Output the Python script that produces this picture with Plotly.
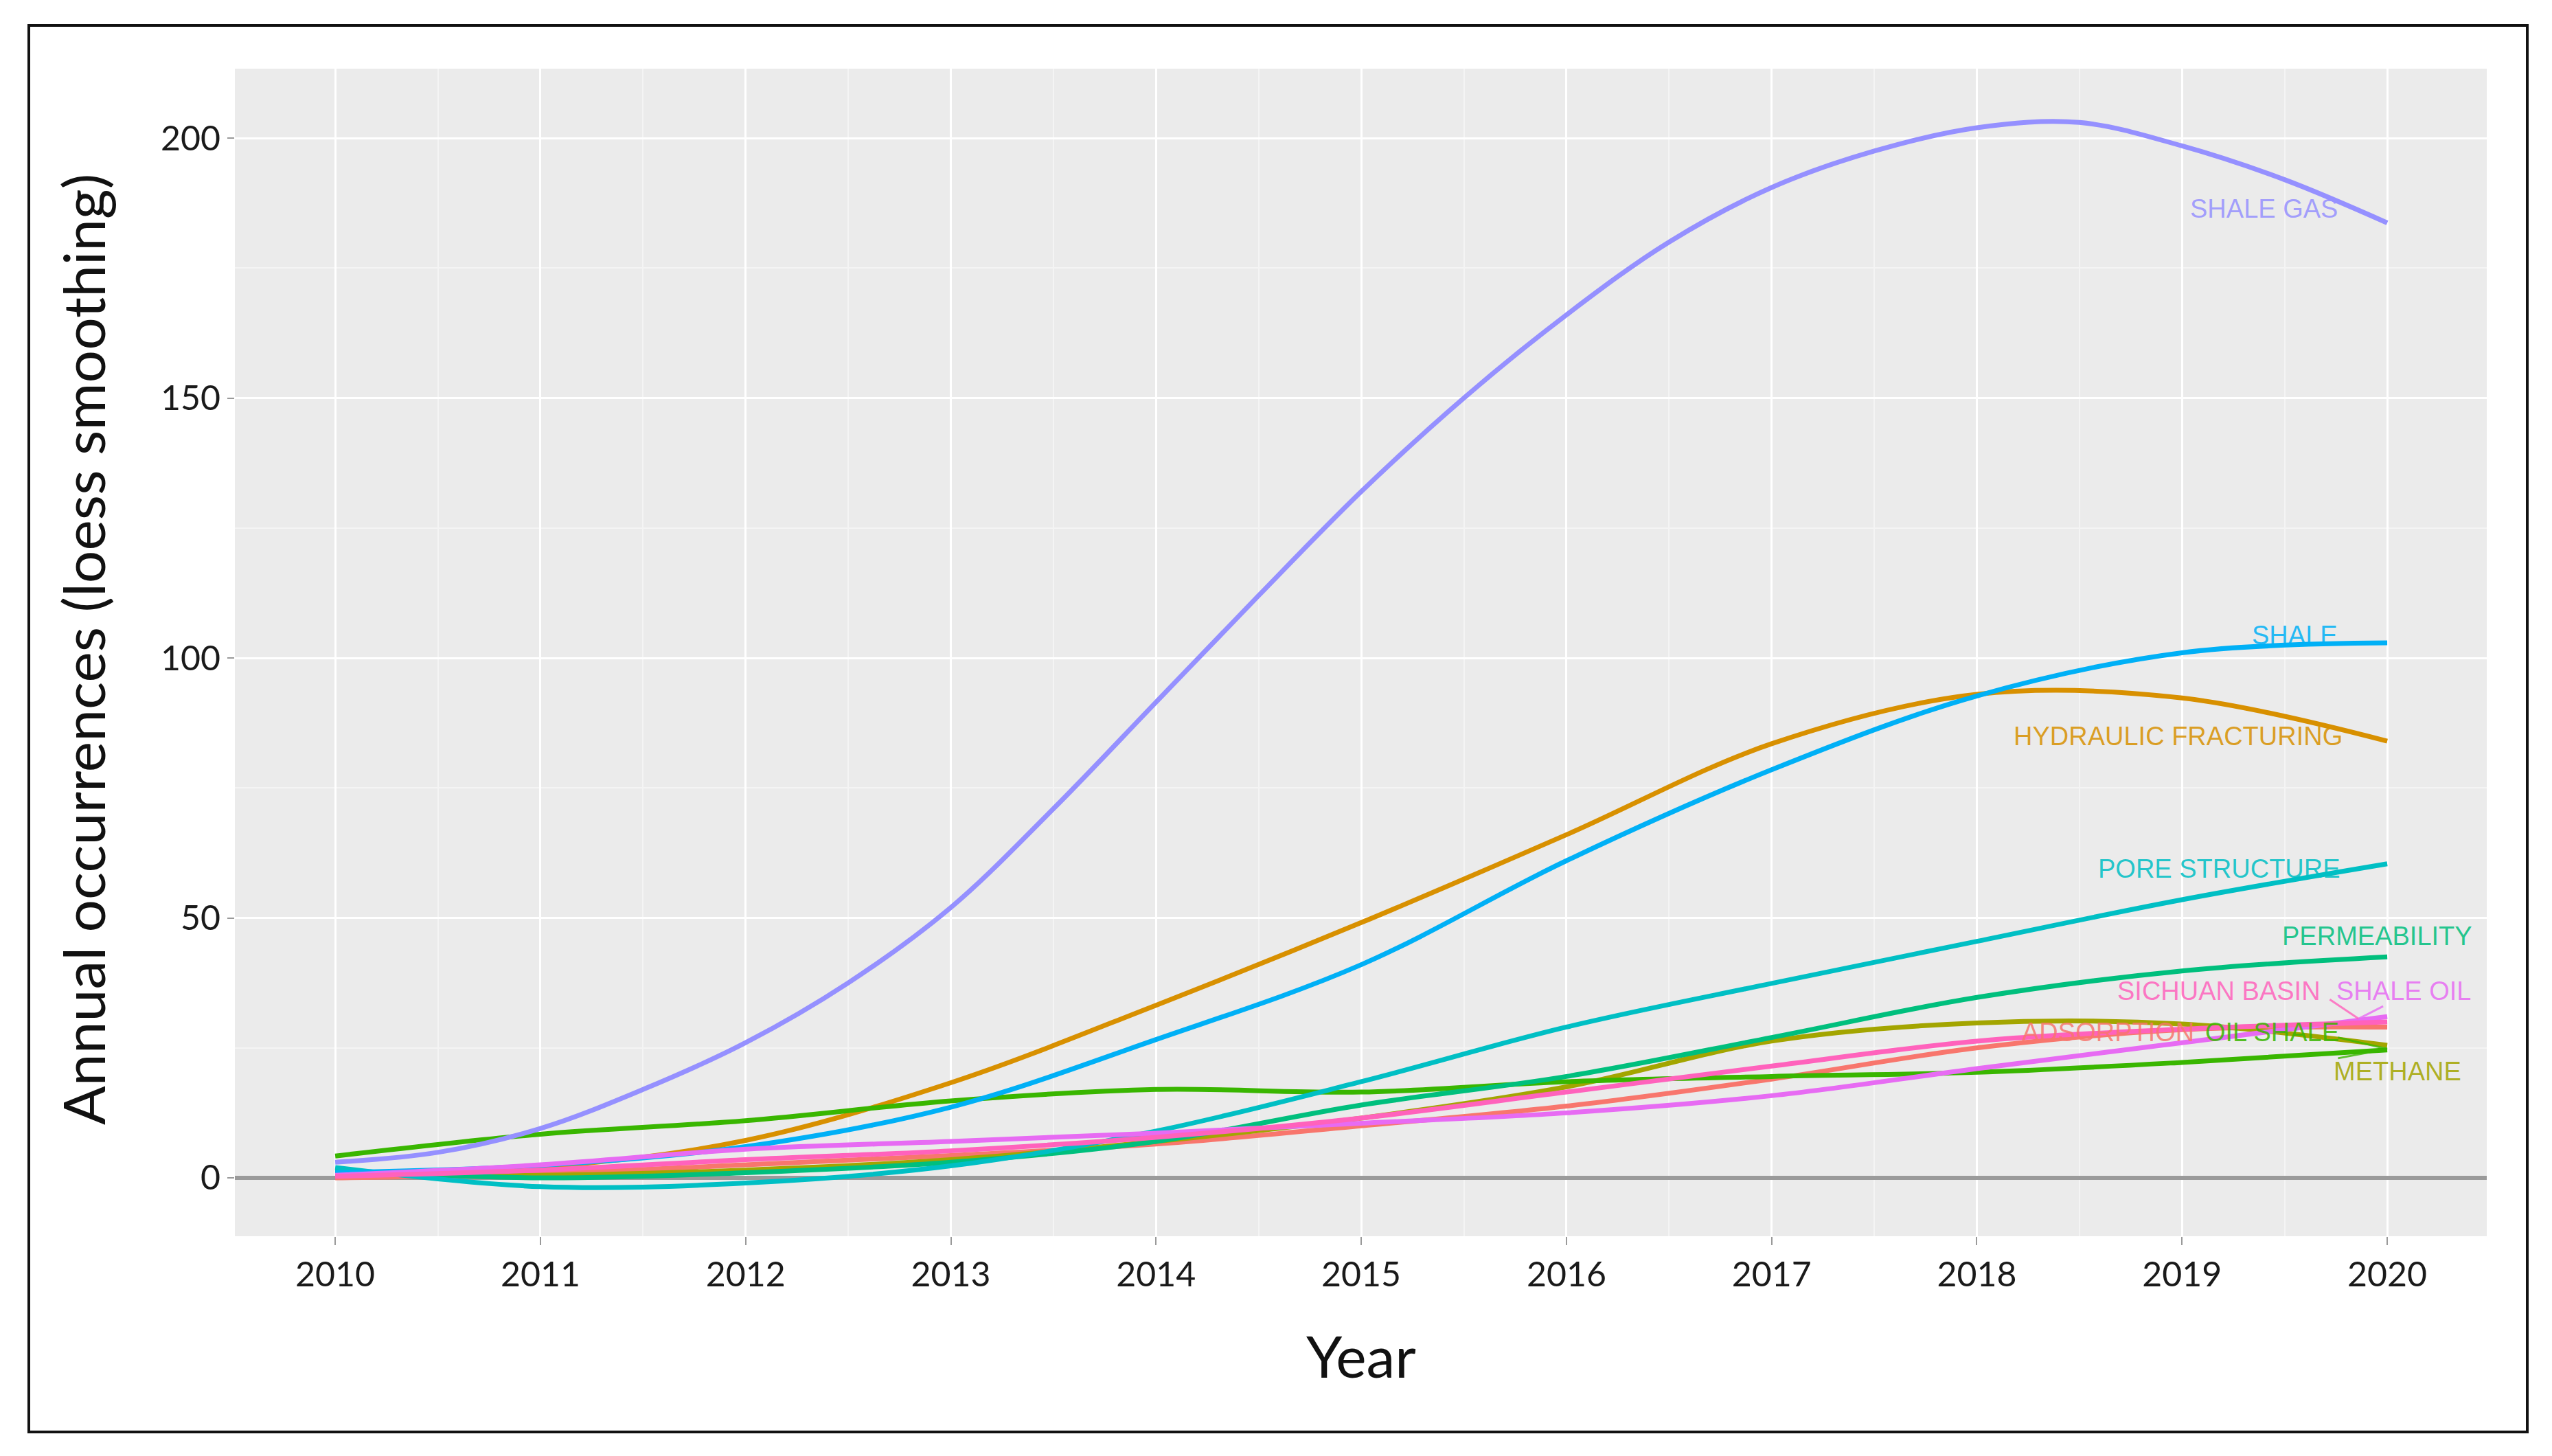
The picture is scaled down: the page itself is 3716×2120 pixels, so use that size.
import plotly.graph_objects as go

# ---------------- data ----------------
YEARS = [2010, 2011, 2012, 2013, 2014, 2015, 2016, 2017, 2018, 2019, 2020]
YEARS_HALF = [2010, 2010.5, 2011, 2011.5, 2012, 2012.5, 2013, 2013.5, 2014, 2014.5,
              2015, 2015.5, 2016, 2016.5, 2017, 2017.5, 2018, 2018.5, 2019, 2019.5, 2020]

shale_gas = [3, 4.9, 9.5, 17, 26, 37.5, 52, 71, 91.5, 112,
             132, 150, 166, 180, 190.5, 197.5, 202, 203, 198.5, 192, 183.7]
adsorption = [0, 0.8, 2.5, 4.3, 6.5, 10, 13.8, 19, 25, 28.5, 29]
hydraulic_fracturing = [0.5, 2, 7.2, 18.3, 33.2, 49.1, 66, 83.5, 93, 92.3, 84]
methane = [1, 0.5, 1.5, 3.5, 7, 11.5, 17.5, 26.3, 29.8, 29.6, 25.5]
oil_shale = [4.2, 8.4, 11, 14.8, 17, 16.5, 18.5, 19.5, 20.3, 22.2, 24.6]
permeability = [1.5, 0, 1, 3, 7, 14, 19.5, 27, 34.7, 39.8, 42.5]
pore_structure = [2, -1.7, -1.0, 2.3, 9, 18.5, 29, 37.4, 45.5, 53.5, 60.4]
shale = [1, 2.4, 6, 13.6, 26.6, 41, 61, 78.5, 92.7, 101, 102.9]
shale_oil = [0.5, 2.5, 5.5, 7, 8.6, 10.5, 12.5, 15.8, 21, 26, 31]
sichuan_basin = [0.3, 1.5, 3.5, 5.2, 7.8, 11.5, 16.5, 21.5, 26.3, 28.6, 30]

TERMS = ["ADSORPTION", "HYDRAULIC FRACTURING", "METHANE", "OIL SHALE", "PERMEABILITY",
         "PORE STRUCTURE", "SHALE", "SHALE GAS", "SHALE OIL", "SICHUAN BASIN"]
COLORS = ["#F8766D", "#D89000", "#A3A500", "#39B600", "#00BF7D",
          "#00BFC4", "#00B0F6", "#9590FF", "#E76BF3", "#FF62BC"]
SERIES = [adsorption, hydraulic_fracturing, methane, oil_shale, permeability,
          pore_structure, shale, shale_gas, shale_oil, sichuan_basin]

# label positions (data coordinates)
LABEL_X = [2018.64, 2018.98, 2020.05, 2019.44, 2019.95, 2019.18, 2019.55, 2019.40, 2020.08, 2019.18]
LABEL_Y = [28.0, 84.9, 20.5, 28.0, 46.5, 59.4, 104.4, 186.4, 35.9, 35.9]

Y_TICKS = [0, 50, 100, 150, 200]
X_TICKS = YEARS

# ---------------- figure ----------------
fig = go.Figure()
for name, col, vals in zip(TERMS, COLORS, SERIES):
    xs = YEARS_HALF if len(vals) == len(YEARS_HALF) else YEARS
    fig.add_trace(go.Scatter(x=xs, y=vals, mode="lines", name=name,
                             line=dict(color=col, width=7, shape="spline", smoothing=1.0),
                             showlegend=False))

def rgba(hexc, a):
    h = hexc.lstrip("#")
    return "rgba(%d,%d,%d,%.2f)" % (int(h[0:2], 16), int(h[2:4], 16), int(h[4:6], 16), a)

LABEL_FONT = "Liberation Sans Narrow, Arial Narrow, Liberation Sans, Arial, sans-serif"
annotations = []
for name, col, lx, ly in zip(TERMS, COLORS, LABEL_X, LABEL_Y):
    annotations.append(dict(x=lx, y=ly, xref="x", yref="y", text=name, showarrow=False,
                            xanchor="center", yanchor="middle",
                            font=dict(family=LABEL_FONT, size=38, color=rgba(col, 0.85))))

TITLE_FONT = "Lato, Open Sans, sans-serif"
annotations.append(dict(x=0.5, y=-0.102, xref="paper", yref="paper", text="Year",
                        showarrow=False, xanchor="center", yanchor="middle",
                        font=dict(family=TITLE_FONT, size=84, color="#111111")))
annotations.append(dict(x=-0.0674, y=0.503, xref="paper", yref="paper",
                        text="Annual occurrences (loess smoothing)", textangle=-90,
                        showarrow=False, xanchor="center", yanchor="middle",
                        font=dict(family=TITLE_FONT, size=84, color="#111111")))

shapes = [
    # label connector segments
    dict(type="line", xref="x", yref="y", x0=2019.72, y0=34.3, x1=2019.86, y1=30.6,
         line=dict(color=rgba("#FF62BC", 0.8), width=3)),
    dict(type="line", xref="x", yref="y", x0=2019.98, y0=33.0, x1=2019.86, y1=30.6,
         line=dict(color=rgba("#E76BF3", 0.8), width=3)),
    dict(type="line", xref="x", yref="y", x0=2019.76, y0=27.0, x1=2020.0, y1=24.8,
         line=dict(color=rgba("#39B600", 0.8), width=3)),
    dict(type="line", xref="x", yref="y", x0=2019.76, y0=23.0, x1=2020.0, y1=24.8,
         line=dict(color=rgba("#39B600", 0.8), width=3)),
    # outer frame
    dict(type="rect", xref="paper", yref="paper", x0=-0.0915, y0=-0.1676, x1=1.018, y1=1.037,
         line=dict(color="#111111", width=4), fillcolor="rgba(0,0,0,0)", layer="above"),
]

fig.update_layout(
    width=3716, height=2120, autosize=False,
    margin=dict(l=334, r=103, t=92, b=328, pad=0),
    paper_bgcolor="white", plot_bgcolor="#EBEBEB",
    annotations=annotations, shapes=shapes,
    xaxis=dict(range=[2009.511, 2020.485], tickmode="array", tickvals=X_TICKS,
               ticktext=[str(v) for v in X_TICKS],
               showgrid=True, gridcolor="white", gridwidth=3,
               minor=dict(dtick=0.5, tick0=2010, showgrid=True, gridcolor="#F4F4F4", gridwidth=1.5),
               ticks="outside", ticklen=12, tickwidth=2, tickcolor="#9A9A9A",
               tickfont=dict(family=TITLE_FONT, size=50, color="#1a1a1a"),
               zeroline=False, showline=False),
    yaxis=dict(range=[-11.23, 213.35], tickmode="array", tickvals=Y_TICKS,
               ticktext=[str(v) for v in Y_TICKS],
               showgrid=True, gridcolor="white", gridwidth=3,
               minor=dict(dtick=25, tick0=0, showgrid=True, gridcolor="#F4F4F4", gridwidth=1.5),
               ticks="outside", ticklen=10, tickwidth=2, tickcolor="#9A9A9A",
               tickfont=dict(family=TITLE_FONT, size=50, color="#1a1a1a"),
               zeroline=True, zerolinecolor="#9A9A9A", zerolinewidth=6, showline=False),
)

fig.write_html("out.html")
